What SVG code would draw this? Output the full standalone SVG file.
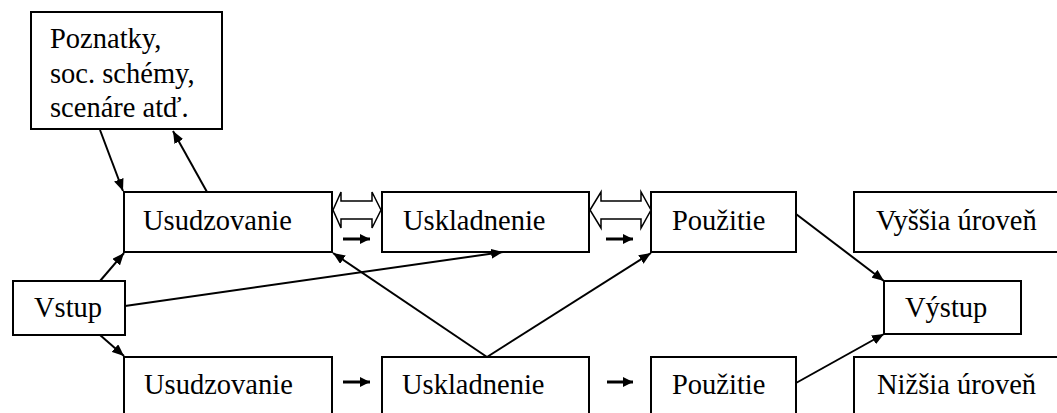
<svg xmlns="http://www.w3.org/2000/svg" width="1057" height="413" viewBox="0 0 1057 413">
<style>
.box{fill:#fff;stroke:#000;stroke-width:2}
.ln{stroke:#000;stroke-width:2;fill:none;marker-end:url(#ah)}
.sm{stroke:#000;stroke-width:3;fill:none;marker-end:url(#sh)}
.dbl{fill:#fff;stroke:#000;stroke-width:1.5;stroke-linejoin:miter}
</style>
<defs>
<marker id="ah" viewBox="0 0 12 10" refX="12" refY="5" markerWidth="12" markerHeight="10" markerUnits="userSpaceOnUse" orient="auto">
<path d="M0,0 L12,5 L0,10 Z" fill="#000"/>
</marker>
<marker id="sh" viewBox="0 0 10 10" refX="10" refY="5" markerWidth="10" markerHeight="10" markerUnits="userSpaceOnUse" orient="auto">
<path d="M0,0 L10,5 L0,10 Z" fill="#000"/>
</marker>
</defs>
<rect width="1057" height="413" fill="#fff"/>
<g font-family="Liberation Serif, 'Times New Roman', Times, 'DejaVu Serif', serif" font-size="28.5" fill="#000">
<g id="poznatky"><rect class="box" x="31" y="12" width="191" height="117"/>
<text x="50" y="48">Poznatky,</text>
<text x="50" y="83">soc. schémy,</text>
<text x="50" y="117">scenáre atď.</text></g>
<g id="usud1"><rect class="box" x="124" y="192" width="208" height="60"/><text x="143" y="230">Usudzovanie</text></g>
<g id="uskl1"><rect class="box" x="382" y="192" width="207" height="60"/><text x="403" y="230">Uskladnenie</text></g>
<g id="pouz1"><rect class="box" x="651" y="192" width="145" height="60"/><text x="672" y="230">Použitie</text></g>
<g id="vyssia"><rect class="box" x="854" y="192" width="210" height="60"/><text x="876" y="230">Vyššia úroveň</text></g>
<g id="vstup"><rect class="box" x="13" y="281" width="112" height="54"/><text x="34" y="317">Vstup</text></g>
<g id="vystup"><rect class="box" x="884" y="281" width="137" height="53"/><text x="905" y="317">Výstup</text></g>
<g id="usud2"><rect class="box" x="124" y="357" width="208" height="70"/><text x="144" y="394">Usudzovanie</text></g>
<g id="uskl2"><rect class="box" x="382" y="357" width="207" height="70"/><text x="402" y="394">Uskladnenie</text></g>
<g id="pouz2"><rect class="box" x="651" y="357" width="145" height="70"/><text x="672" y="394">Použitie</text></g>
<g id="nizsia"><rect class="box" x="854" y="357" width="210" height="70"/><text x="877" y="394">Nižšia úroveň</text></g>
</g>
<g id="connectors">
<line class="ln" x1="100" y1="130" x2="123" y2="191"/>
<line class="ln" x1="207" y1="192" x2="173" y2="131"/>
<line class="ln" x1="100" y1="281" x2="124" y2="253"/>
<line class="ln" x1="100" y1="335" x2="124" y2="356"/>
<line class="ln" x1="125" y1="306" x2="503" y2="252"/>
<line class="ln" x1="487" y1="357" x2="333" y2="253"/>
<line class="ln" x1="487" y1="357" x2="651" y2="253"/>
<line class="ln" x1="796" y1="214" x2="884" y2="281"/>
<line class="ln" x1="796" y1="383" x2="884" y2="334"/>
<line class="sm" x1="343" y1="239" x2="370" y2="239"/>
<line class="sm" x1="606" y1="239" x2="633" y2="239"/>
<line class="sm" x1="343" y1="382" x2="370" y2="382"/>
<line class="sm" x1="607" y1="382" x2="633" y2="382"/>
<polygon class="dbl" points="333,210 341,192 341,201 372,201 372,192 381,210 372,228 372,219 341,219 341,228"/>
<polygon class="dbl" points="590,210 601,192 601,201 641,201 641,192 651,210 641,228 641,219 601,219 601,228"/>
</g>
</svg>
